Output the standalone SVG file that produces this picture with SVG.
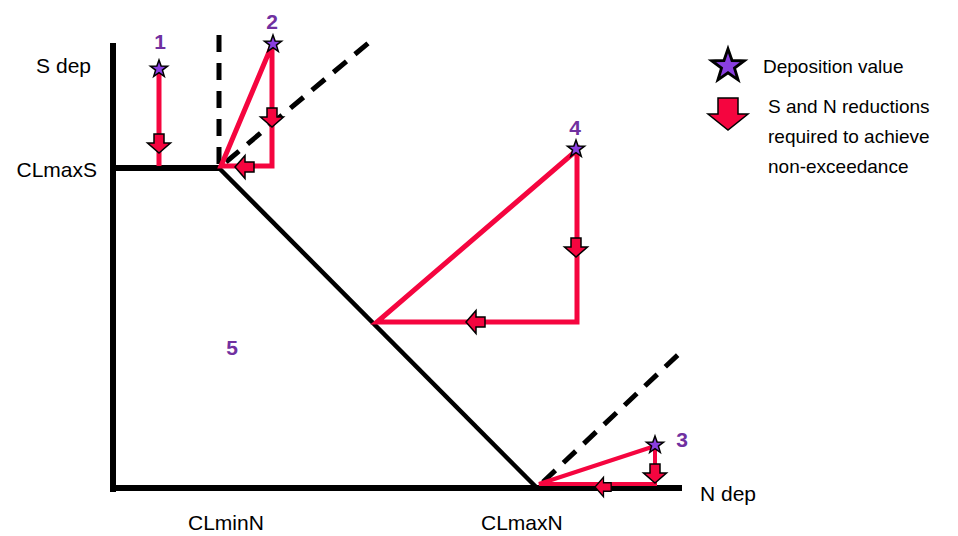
<svg xmlns="http://www.w3.org/2000/svg" width="958" height="536" viewBox="0 0 958 536">
<style>
.ax{stroke:#000;stroke-width:6;fill:none;stroke-linecap:butt}
.dl{stroke:#000;stroke-width:5;fill:none;stroke-dasharray:17 11}
.rd{stroke:#F5053F;stroke-width:5;fill:none;stroke-linejoin:miter}
.arr{fill:#F5053F;stroke:#000;stroke-width:1.5;stroke-linejoin:miter}
.star{fill:#8A3FE0;stroke:#000;stroke-width:1.5}
.lbl{font-family:"Liberation Sans",Arial,sans-serif;font-size:21px;fill:#000}
.num{font-family:"Liberation Sans",Arial,sans-serif;font-size:21px;font-weight:bold;fill:#7030A0;text-anchor:middle}
.leg{font-family:"Liberation Sans",Arial,sans-serif;font-size:19px;fill:#000}
</style>
<defs>
<path id="star" d="M0,-9 L2.12,-2.91 L8.56,-2.78 L3.42,1.11 L5.29,7.28 L0,3.6 L-5.29,7.28 L-3.42,1.11 L-8.56,-2.78 L-2.12,-2.91 Z"/>
<path id="arr" d="M-5,-19 H5 V-10 H11.5 L0,0 L-11.5,-10 H-5 Z"/>
</defs>
<g id="connectors">
<line class="ax" x1="113" y1="43" x2="113" y2="492"/>
<line class="ax" x1="110" y1="488" x2="682" y2="488"/>
<line class="ax" x1="113" y1="168" x2="219" y2="168"/>
<line x1="219" y1="168" x2="537" y2="488" stroke="#000" stroke-width="4.5"/>
<line class="dl" x1="219" y1="35" x2="219" y2="166"/>
<line class="dl" x1="226" y1="162" x2="372" y2="40"/>
<line class="dl" x1="543" y1="482" x2="681" y2="352"/>
</g>
<g id="point1">
<line class="rd" x1="159" y1="70" x2="159" y2="166"/>
<use href="#arr" class="arr" transform="translate(159,153)"/>
<use href="#star" class="star" transform="translate(159,69)"/>
<text class="num" x="160" y="49">1</text>
</g>
<g id="point2">
<polyline class="rd" points="272,45 272,166 221,166 272,45"/>
<use href="#arr" class="arr" transform="translate(272,127)"/>
<use href="#arr" class="arr" transform="translate(235,167) rotate(90)"/>
<use href="#star" class="star" transform="translate(273,44)"/>
<text class="num" x="272" y="29">2</text>
</g>
<g id="point4">
<polygon class="rd" points="577,150 577,322 377,322"/>
<use href="#arr" class="arr" transform="translate(576,257)"/>
<use href="#arr" class="arr" transform="translate(466,322) rotate(90)"/>
<use href="#star" class="star" transform="translate(576,149)"/>
<text class="num" x="575" y="135">4</text>
</g>
<g id="point3">
<polyline class="rd" points="655,446 655,484 539,484 655,446" style="stroke-width:4"/>
<use href="#arr" class="arr" transform="translate(655,483)"/>
<use href="#arr" class="arr" transform="translate(595,487) rotate(90) scale(0.85)"/>
<use href="#star" class="star" transform="translate(655,445)"/>
<text class="num" x="682" y="447">3</text>
</g>
<g id="region5">
<text class="num" x="232" y="355">5</text>
</g>
<g id="axis-labels">
<text class="lbl" x="91" y="73" text-anchor="end">S dep</text>
<text class="lbl" x="97" y="177" text-anchor="end">CLmaxS</text>
<text class="lbl" x="188" y="530">CLminN</text>
<text class="lbl" x="481" y="530">CLmaxN</text>
<text class="lbl" x="700" y="501">N dep</text>
</g>
<g id="legend">
<use href="#star" class="star" transform="translate(728,66) scale(1.9)"/>
<text class="leg" x="763" y="73">Deposition value</text>
<path class="arr" d="M718,98 H738 V114 H748 L728,130 L708,114 H718 Z"/>
<text class="leg" x="768" y="113">S and N reductions</text>
<text class="leg" x="768" y="143">required to achieve</text>
<text class="leg" x="768" y="173">non-exceedance</text>
</g>
</svg>
